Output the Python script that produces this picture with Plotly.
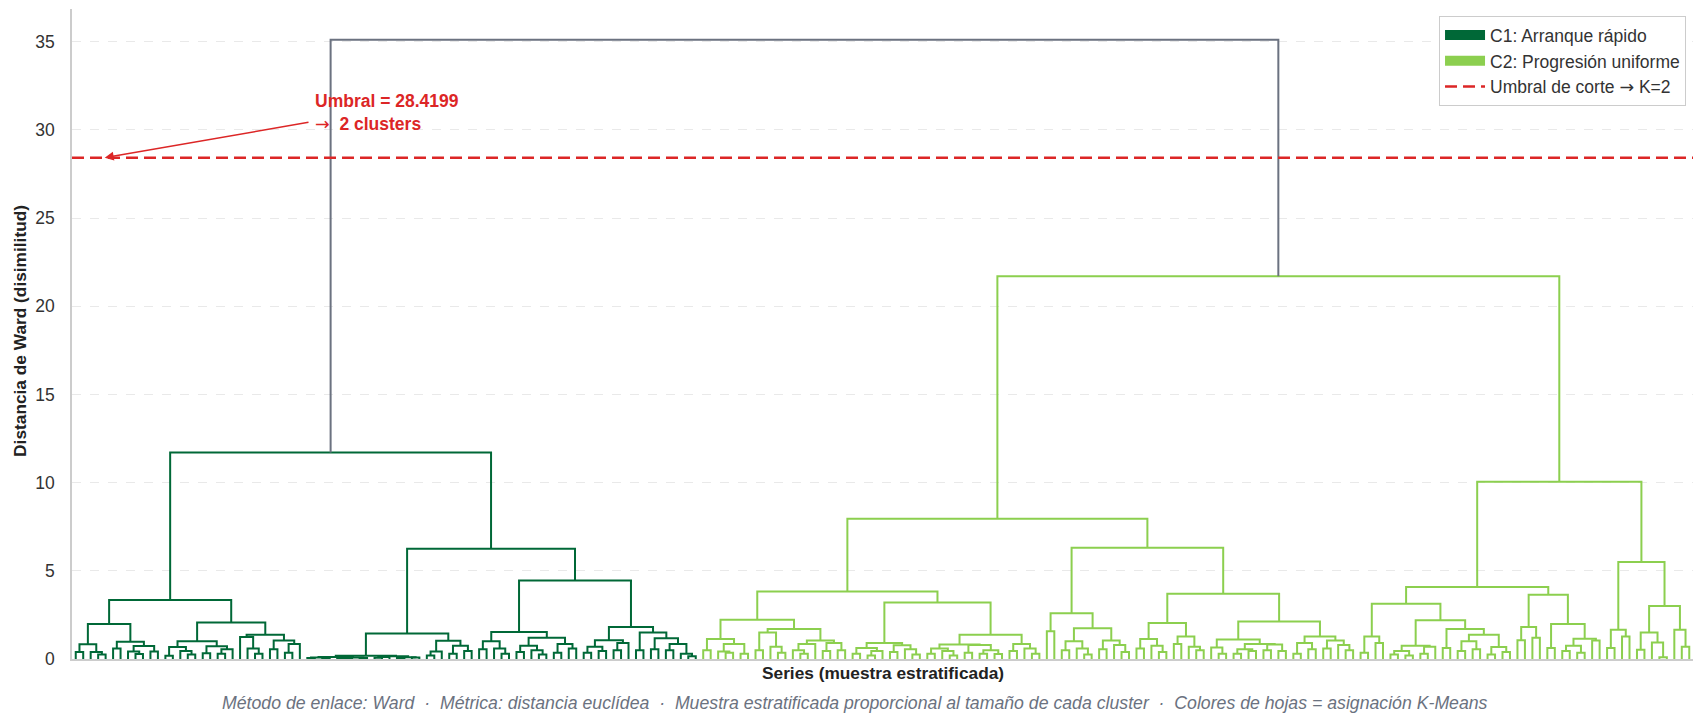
import plotly.graph_objects as go

# Ward merge trees. Every internal node is [merge_height, left, right]; 0 is a leaf.

# ---- C1: Arranque rápido ----
c1_a1 = [1.98,
         [0.83, [0.40, 0, 0], [0.40, 0, [0.26, 0, 0]]],
         [0.98, [0.60, 0, 0], [0.74, [0.42, 0, [0.28, 0, 0]], [0.42, 0, 0]]]]
c1_a2 = [2.07,
         [1.00, [0.68, [0.19, 0, 0], [0.45, 0, [0.25, 0, 0]]],
                [0.72, [0.32, 0, 0], [0.55, [0.30, 0, 0], 0]]],
         [1.38, [1.25, 0, [0.60, 0, [0.30, 0, 0]]],
                [1.05, [0.55, 0, 0], [0.85, [0.35, 0, 0], 0]]]]
c1_b1a = [0.19,
          [0.12, [0.08, [0.05, 0, 0], [0.04, 0, 0]],
                 [0.09, [0.06, 0, [0.03, 0, 0]], [0.05, 0, 0]]],
          [0.15, [0.11, [0.07, 0, 0], 0],
                 [0.10, [0.05, 0, 0], [0.08, 0, 0]]]]
c1_b1b = [1.04, [0.42, [0.20, 0, 0], 0], [0.75, [0.30, 0, 0], [0.45, 0, 0]]]
c1_b2a = [1.53,
          [1.00, [0.55, 0, 0], [0.60, 0, [0.30, 0, 0]]],
          [1.20, [0.75, [0.40, 0, 0], [0.50, 0, [0.25, 0, 0]]],
                 [0.85, [0.35, 0, 0], [0.60, 0, 0]]]]
c1_b2b = [1.81,
          [1.06, [0.70, [0.35, 0, 0], [0.45, 0, 0]], [0.90, [0.50, 0, 0], 0]],
          [1.50, [0.50, 0, 0],
                 [1.17, [0.55, 0, 0], [0.85, [0.50, 0, 0], [0.30, 0, [0.15, 0, 0]]]]]]
c1_tree = [11.70,
           [3.35, c1_a1, c1_a2],
           [6.25, [1.45, c1_b1a, c1_b1b], [4.45, c1_b2a, c1_b2b]]]

# ---- C2: Progresión uniforme ----
c2_a = [2.23,
        [1.13, [0.50, 0, 0], [0.85, [0.42, 0, [0.35, 0, 0]], [0.30, 0, 0]]],
        [1.70, [1.50, [0.50, 0, 0], [0.70, 0, [0.35, 0, 0]]],
               [1.05, [0.85, [0.50, 0, [0.30, 0, 0]], 0],
                      [0.90, [0.45, 0, 0], [0.50, 0, 0]]]]]
c2_b = [3.20,
        [0.90, [0.62, [0.30, 0, 0], [0.45, [0.20, 0, 0], 0]],
               [0.78, [0.40, 0, 0], [0.55, 0, [0.25, 0, 0]]]],
        [1.38, [0.82, [0.60, [0.30, 0, 0], [0.45, 0, [0.20, 0, 0]]],
                      [0.80, [0.35, 0, 0], [0.50, [0.30, 0, 0], [0.28, 0, 0]]]],
               [0.85, [0.45, 0, 0], [0.60, 0, [0.30, 0, 0]]]]]
c2_c = [2.60,
        [1.57, 0, 0],
        [1.75, [1.00, [0.50, 0, 0], [0.60, 0, [0.25, 0, 0]]],
               [1.05, [0.55, 0, 0], [0.80, 0, [0.40, 0, 0]]]]]
c2_d = [3.70,
        [2.04, [1.13, [0.60, 0, 0], [0.75, 0, [0.40, 0, 0]]],
               [1.28, [0.85, 0, 0], [0.70, 0, [0.50, 0, 0]]]],
        [2.13, [1.10, [0.65, 0, [0.30, 0, 0]],
                      [0.85, [0.55, [0.30, 0, 0], [0.45, 0, 0]],
                             [0.82, [0.50, 0, 0], [0.45, 0, 0]]]],
               [1.28, [0.90, [0.30, 0, 0], [0.55, 0, 0]],
                      [1.05, [0.60, 0, 0], [0.80, 0, [0.50, 0, 0]]]]]]
c2_e = [3.13,
        [1.28, [0.35, 0, 0], [0.90, 0, 0]],
        [2.19, [0.75, [0.45, [0.25, 0, 0], [0.20, 0, 0]], [0.70, [0.30, 0, 0], 0]],
               [1.70, [0.62, 0, 0],
                      [1.38, [1.00, [0.45, 0, 0], [0.55, 0, 0]],
                             [0.68, [0.25, 0, 0], [0.40, 0, 0]]]]]]
c2_f = [3.64,
        [1.81, [1.06, 0, 0], [1.20, 0, 0]],
        [1.98, [0.62, 0, 0], [1.15, [0.75, [0.45, 0, 0], [0.35, 0, 0]], [1.05, 0, 0]]]]
c2_g = [5.50,
        [1.66, [0.62, 0, 0], [1.28, 0, 0]],
        [3.00, [1.50, [0.53, 0, 0], [0.94, 0, [0.10, 0, 0]]], [1.66, 0, [0.70, 0, 0]]]]
c2_tree = [21.70,
           [7.95, [3.83, c2_a, c2_b], [6.30, c2_c, c2_d]],
           [10.05, [4.08, c2_e, c2_f], c2_g]]

root_height = 35.10
cut_height = 28.4199

cluster_names = ["C1: Arranque rápido", "C2: Progresión uniforme"]
cluster_colors = ["#006837", "#8ccf4f"]
root_color = "#6b7280"
cut_color = "#dc2626"

# ---- dendrogram geometry (leaves at 5, 15, 25, ...) ----
leaf_counter = [0]


def place(node, segments):
    if node == 0:
        x = 5 + 10 * leaf_counter[0]
        leaf_counter[0] += 1
        return x, 0.0
    h, left, right = node
    xl, hl = place(left, segments)
    xr, hr = place(right, segments)
    segments.append(([xl, xl, xr, xr], [hl, h, h, hr]))
    return (xl + xr) / 2, h


segs_c1, segs_c2 = [], []
x1, h1 = place(c1_tree, segs_c1)
x2, h2 = place(c2_tree, segs_c2)
segs_root = [([x1, x1, x2, x2], [h1, root_height, root_height, h2])]
n_leaves = leaf_counter[0]
x_max = 10 * n_leaves


def flatten(segments):
    xs, ys = [], []
    for sx, sy in segments:
        xs += sx + [None]
        ys += sy + [None]
    return xs, ys


fig = go.Figure()

# legend patches
for name, col in zip(cluster_names, cluster_colors):
    fig.add_trace(go.Scatter(x=[None], y=[None], mode="lines", name=name,
                             line=dict(color=col, width=10)))

for segs, col in [(segs_c1, cluster_colors[0]), (segs_c2, cluster_colors[1]),
                  (segs_root, root_color)]:
    xs, ys = flatten(segs)
    fig.add_trace(go.Scatter(x=xs, y=ys, mode="lines", showlegend=False,
                             hoverinfo="skip",
                             line=dict(color=col, width=2)))

ARROW = '<span style="font-family:DejaVu Sans;font-weight:normal">→</span>'

fig.add_trace(go.Scatter(x=[0, x_max], y=[cut_height, cut_height], mode="lines",
                         name=f"Umbral de corte {ARROW} K=2",
                         line=dict(color=cut_color, width=2.6, dash="12px,6px")))

font_family = "Liberation Sans, Arial, sans-serif"

fig.update_layout(
    width=1693, height=717,
    margin=dict(l=72, r=0, t=9, b=58),
    paper_bgcolor="white", plot_bgcolor="white",
    font=dict(family=font_family, size=17.5, color="#333333"),
    showlegend=True,
    legend=dict(x=0.9957, y=0.989, xanchor="right", yanchor="top",
                bgcolor="white", bordercolor="#cccccc", borderwidth=1,
                itemwidth=40,
                font=dict(size=17.5, color="#333333"), tracegroupgap=0),
    xaxis=dict(range=[0, x_max], showticklabels=False, showgrid=False,
               zeroline=False, showline=True, linecolor="#cccccc", linewidth=1.5,
               ticks=""),
    yaxis=dict(range=[0, 36.85], tickvals=[0, 5, 10, 15, 20, 25, 30, 35],
               showgrid=True, gridcolor="#e9e9e9", griddash="dash", gridwidth=1,
               zeroline=False, showline=True, linecolor="#cccccc", linewidth=1.5,
               ticks="", ticklabelstandoff=12,
               tickfont=dict(size=17.5, color="#333333")),
)

annotations = [
    dict(text="<b>Series (muestra estratificada)</b>", xref="paper", yref="paper",
         x=0.5, y=-0.0215, xanchor="center", yanchor="middle", showarrow=False,
         font=dict(size=17.3, color="#222222")),
    dict(text="<b>Distancia de Ward (disimilitud)</b>", xref="paper", yref="paper",
         x=-0.032, y=0.505, xanchor="center", yanchor="middle", textangle=-90,
         showarrow=False, font=dict(size=17.3, color="#222222")),
    dict(text="<i>Método de enlace: Ward  ·  Métrica: distancia euclídea  ·  "
              "Muestra estratificada proporcional al tamaño de cada cluster  ·  "
              "Colores de hojas = asignación K-Means</i>",
         xref="paper", yref="paper", x=0.483, y=-0.0677, xanchor="center",
         yanchor="middle", showarrow=False, font=dict(size=17.7, color="#6b7280")),
    dict(text=f"<b>Umbral = 28.4199<br>{ARROW}  2 clusters</b>", xref="x", yref="y",
         x=322, y=31.0, xanchor="left", yanchor="middle", align="left",
         showarrow=False, font=dict(size=17.5, color=cut_color)),
    dict(text="", xref="x", yref="y", x=43.8, y=cut_height,
         axref="x", ayref="y", ax=318.6, ay=30.44, showarrow=True,
         arrowhead=2, arrowsize=1.2, arrowwidth=1.5, arrowcolor=cut_color),
]
fig.update_layout(annotations=annotations)

fig.write_html("out.html")
